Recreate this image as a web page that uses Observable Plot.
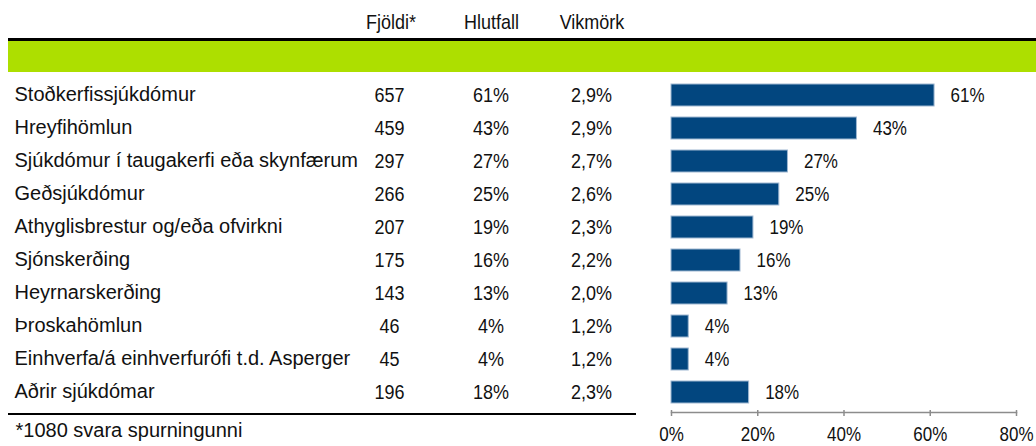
<!DOCTYPE html>
<html>
<head>
<meta charset="utf-8">
<script src="https://cdn.jsdelivr.net/npm/d3@7"></script>
<script src="https://cdn.jsdelivr.net/npm/@observablehq/plot@0.6"></script>
<style>
  html, body { margin: 0; padding: 0; background: #fff; }
  #wrap { position: relative; width: 1036px; height: 446px; overflow: hidden;
          font-family: "Liberation Sans", Arial, sans-serif; color: #111; }
  #header { position: relative; height: 78px; }
  .colhead { position: absolute; top: 13px; font-size: 18px; line-height: 18px; transform: translateX(-50%) scaleY(1.13); transform-origin: 50% 50%; white-space: nowrap; }
  #topline { position: absolute; left: 8px; right: 0; top: 38px; height: 2.5px; background: #000; }
  #band { position: absolute; left: 8px; right: 0; top: 40.5px; height: 31.5px; background: #addf00; }
  #bottomline { position: absolute; left: 8px; width: 628px; top: 412.5px; height: 2.5px; background: #000; }
  svg { display: block; }
</style>
</head>
<body>
<div id="wrap">
  <div id="header">
    <div id="topline"></div>
    <div id="band"></div>
  </div>
  <div id="chart"></div>
  <div id="bottomline"></div>
</div>
<script>
// ---- data ----
const categories = [
  "Stoðkerfissjúkdómur",
  "Hreyfihömlun",
  "Sjúkdómur í taugakerfi eða skynfærum",
  "Geðsjúkdómur",
  "Athyglisbrestur og/eða ofvirkni",
  "Sjónskerðing",
  "Heyrnarskerðing",
  "Þroskahömlun",
  "Einhverfa/á einhverfurófi t.d. Asperger",
  "Aðrir sjúkdómar"
];
const counts = [657, 459, 297, 266, 207, 175, 143, 46, 45, 196];
const shares = [61, 43, 27, 25, 19, 16, 13, 4, 4, 18];
const errorMargins = [2.9, 2.9, 2.7, 2.6, 2.3, 2.2, 2.0, 1.2, 1.2, 2.3];
const columnHeaders = ["Fjöldi*", "Hlutfall", "Vikmörk"];
const tickValues = [0, 20, 40, 60, 80];
const footnote = "*1080 svara spurningunni";

const rows = categories.map((c, i) => ({
  category: c,
  count: counts[i],
  share: shares[i],
  margin: errorMargins[i]
}));

const FONT = '"Liberation Sans", Arial, sans-serif';
const fmtComma = v => v.toFixed(1).replace(".", ",") + "%";

// header column labels (HTML)
const headCenters = [391, 491.5, 592];
const header = document.getElementById("header");
columnHeaders.forEach((h, i) => {
  const d = document.createElement("div");
  d.className = "colhead";
  d.style.left = headCenters[i] + "px";
  d.textContent = h;
  header.appendChild(d);
});

const ML = 671;
const plot = Plot.plot({
  width: 1036,
  height: 368,
  marginLeft: ML,
  marginRight: 20,
  marginTop: 0.5,
  marginBottom: 37.5,
  style: { fontFamily: FONT, fontSize: "18px", color: "#111", background: "transparent", overflow: "visible" },
  x: { domain: [0, 80], axis: null, label: null },
  y: { domain: categories, paddingInner: 0.34, paddingOuter: 0.17, axis: null, label: null },
  marks: [
    Plot.frame({ anchor: "bottom", stroke: "#8c8c8c", strokeWidth: 1.5, dy: 3.5 }),
    Plot.axisX({
      ticks: tickValues,
      tickFormat: d => d + "%",
      label: null,
      tickSize: 6,
      tickPadding: 12,
      dy: 1.5,
      stroke: "#8c8c8c",
      strokeWidth: 1.5,
      fontSize: 17,
      fill: "#111"
    }),
    Plot.barX(rows, {
      x: "share", y: "category",
      fill: "#02467f", stroke: "#9fb8d2", strokeWidth: 1
    }),
    Plot.text(rows, {
      x: "share", y: "category", text: d => d.share + "%",
      textAnchor: "start", dx: 16, fontSize: 17, fill: "#111"
    }),
    // table columns
    Plot.text(rows, {
      y: "category", text: "category", frameAnchor: "left",
      textAnchor: "start", dx: 14 - ML, dy: -1, fontSize: 20, fill: "#111"
    }),
    Plot.text(rows, {
      y: "category", text: d => String(d.count), frameAnchor: "left",
      textAnchor: "middle", dx: 389 - ML, dy: -0.5, fontSize: 18, fill: "#111"
    }),
    Plot.text(rows, {
      y: "category", text: d => d.share + "%", frameAnchor: "left",
      textAnchor: "middle", dx: 490.5 - ML, dy: -0.5, fontSize: 18, fill: "#111"
    }),
    Plot.text(rows, {
      y: "category", text: d => fmtComma(d.margin), frameAnchor: "left",
      textAnchor: "middle", dx: 591 - ML, dy: -0.5, fontSize: 18, fill: "#111"
    }),
    Plot.text([footnote], {
      text: d => d, frameAnchor: "bottom-left", lineAnchor: "middle",
      textAnchor: "start", dx: 15 - ML, dy: 21.8, fontSize: 20, fill: "#111"
    })
  ]
});
document.getElementById("chart").appendChild(plot);

// the original's figures are set in a slightly tall, condensed face:
// stretch the numeric labels vertically about their own centre
d3.select(plot).selectAll("text")
  .filter(function() { return !categories.includes(this.textContent) && this.textContent !== footnote; })
  .each(function() {
    const b = this.getBBox();
    const cy = b.y + b.height / 2;
    const prev = this.getAttribute("transform") || "";
    this.setAttribute("transform", `${prev} translate(0,${cy}) scale(1,1.15) translate(0,${-cy})`.trim());
  });
</script>
</body>
</html>
